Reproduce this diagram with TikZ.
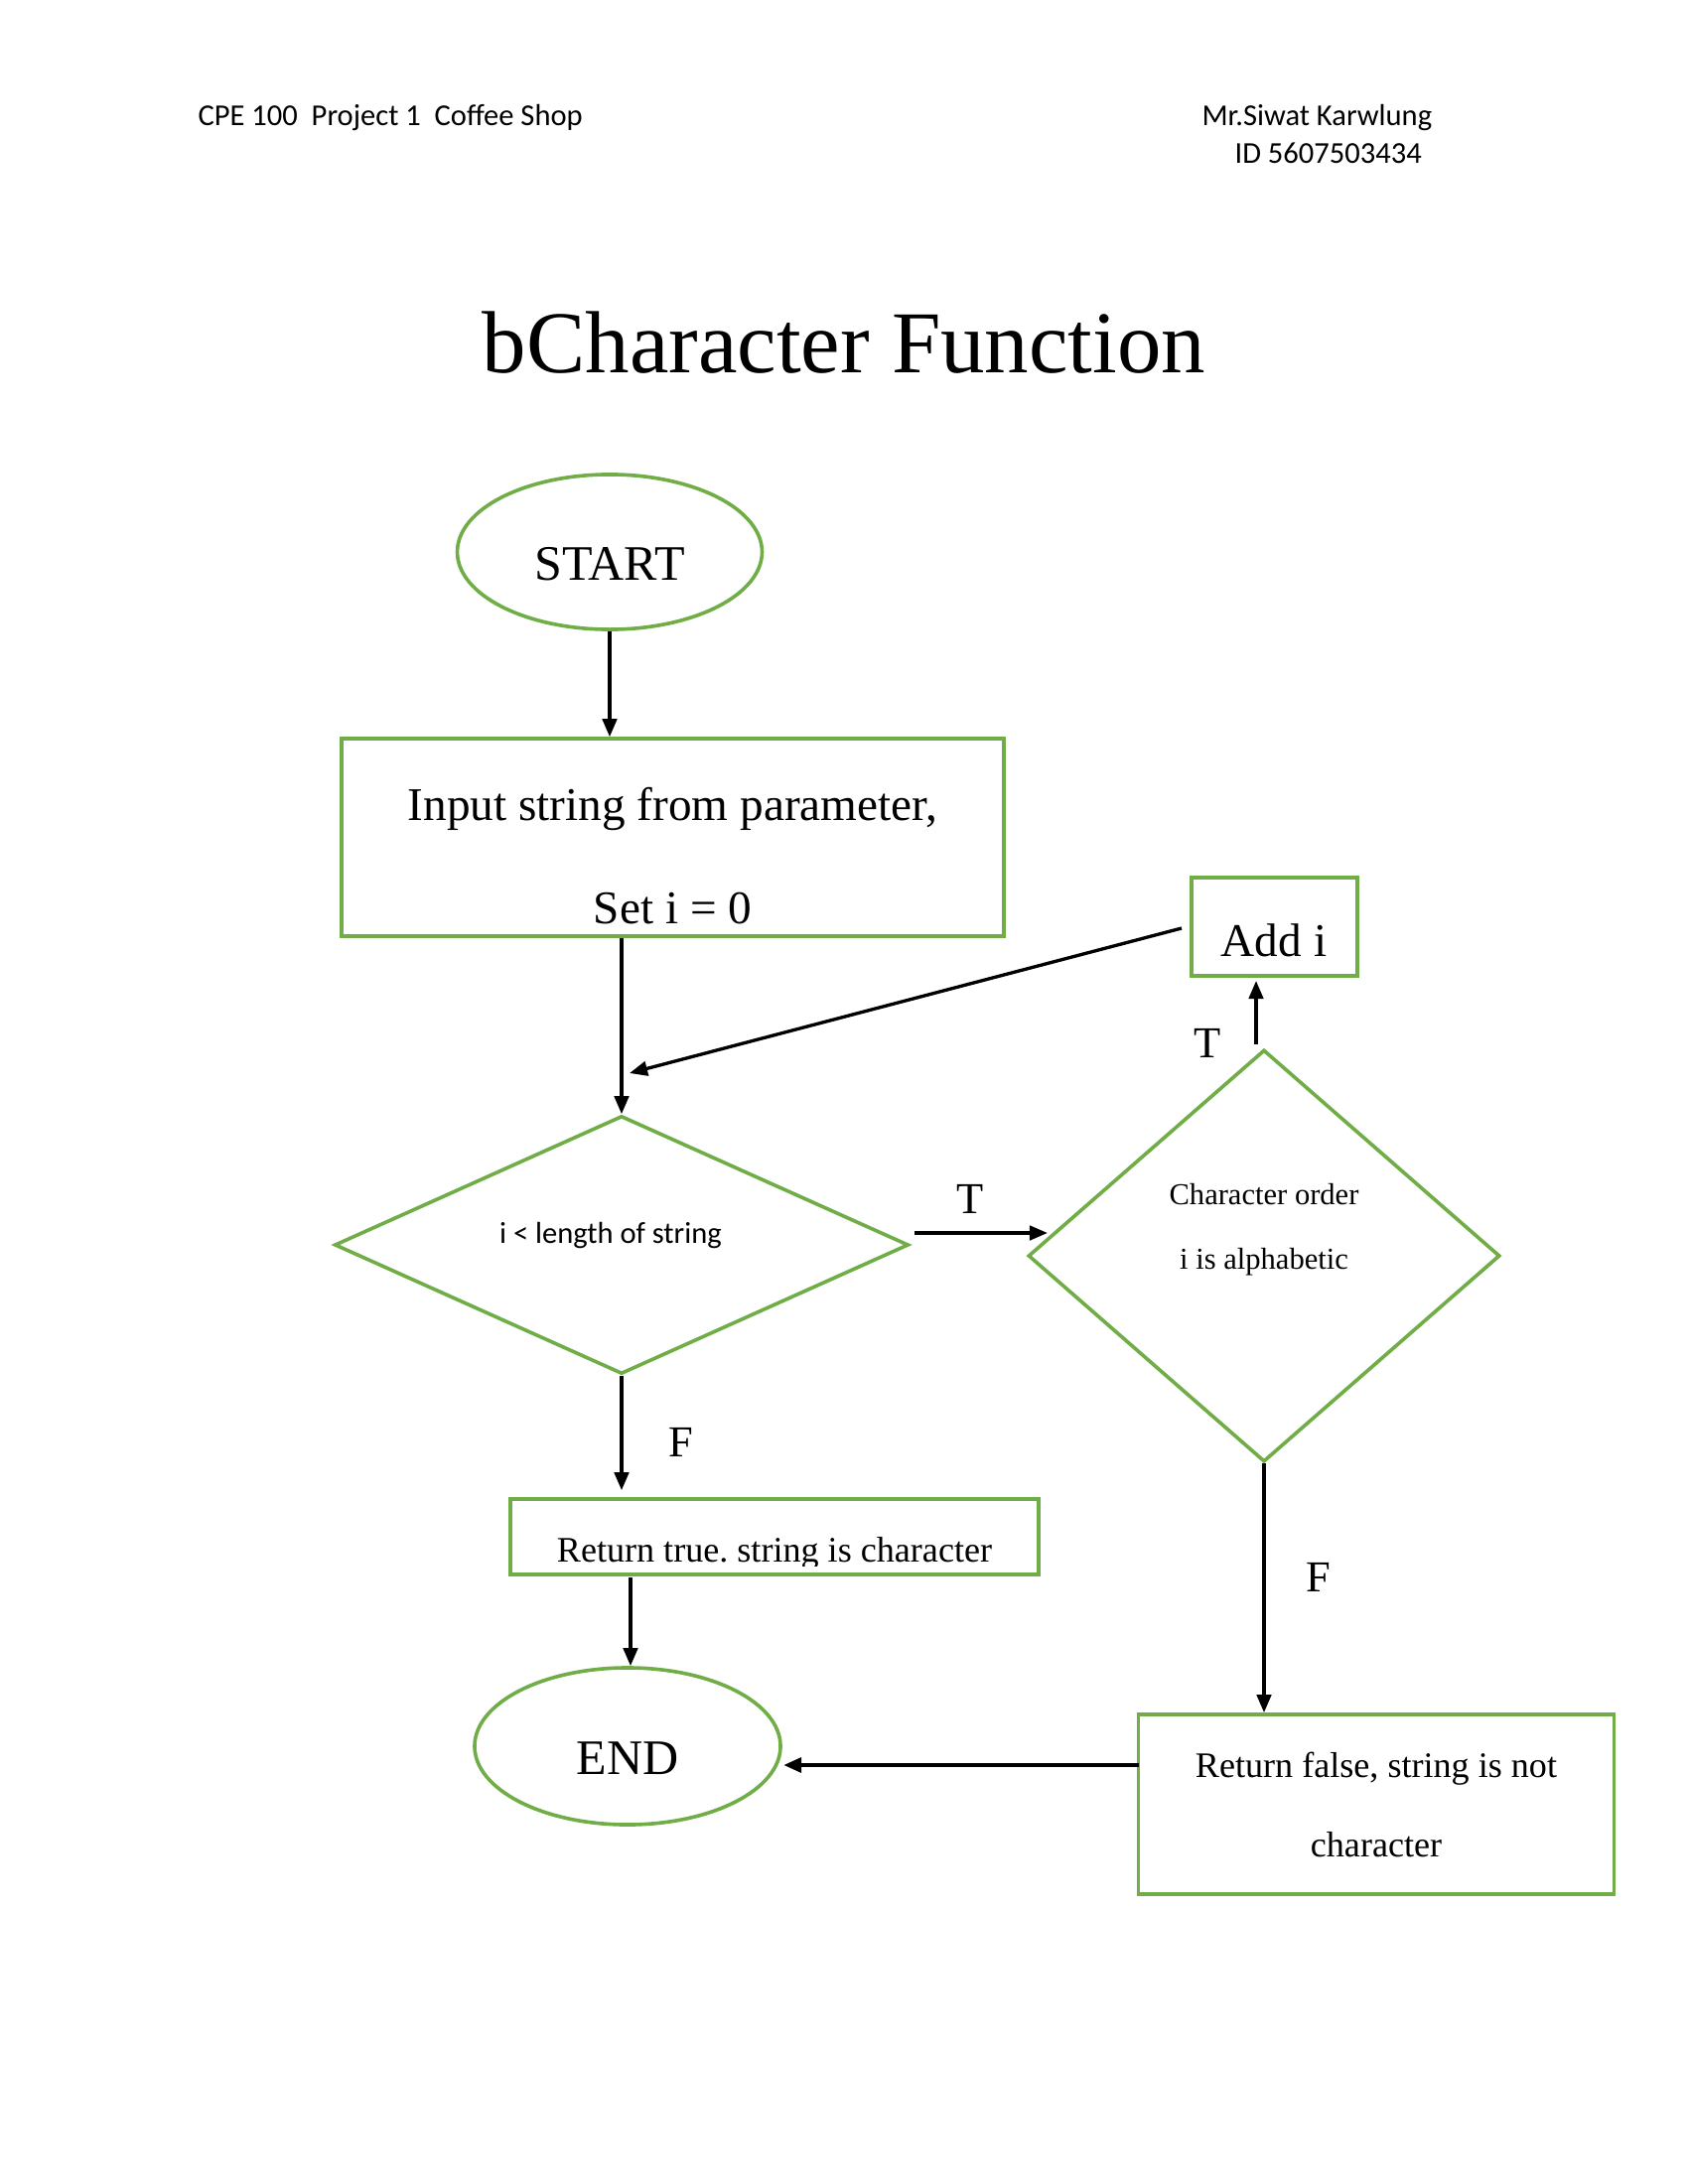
\documentclass[tikz,border=0pt]{standalone}
\usepackage{fontspec}
\setmainfont{Liberation Serif}
\newfontfamily\calib{Carlito}
\usetikzlibrary{shapes.geometric,arrows.meta}
\definecolor{ogreen}{HTML}{70AD47}
\frenchspacing
\begin{document}
\begin{tikzpicture}[x=0.36pt,y=-0.36pt,
  gline/.style={draw=ogreen, line width=1.3pt},
  boxn/.style={gline, rectangle, inner sep=0pt},
  elln/.style={gline, ellipse, inner sep=0pt},
  diam/.style={gline, diamond, inner sep=0pt},
  arr/.style={line width=1.2pt, -{Triangle[length=6.5pt,width=5.2pt]}},
  txt/.style={anchor=base, inner sep=0pt},
  big/.style={txt, font=\fontsize{18}{20}\selectfont},
  mid/.style={txt, font=\fontsize{17}{19}\selectfont},
  sml/.style={txt, font=\fontsize{13}{15}\selectfont},
  tiny/.style={txt, font=\fontsize{11}{13}\selectfont},
  lbl/.style={txt, font=\fontsize{16}{18}\selectfont},
  hdr/.style={anchor=base west, inner sep=0pt, font=\calib\fontsize{11}{13}\selectfont}]
\useasboundingbox (0,0) rectangle (1700,2200);
\fill[white] (0,0) rectangle (1700,2200);

% header
\node[hdr] (h1) at (199,127) {CPE 100\ \ Project 1\ \ Coffee Shop};
\node[hdr] (h2) at (1210,127) {Mr.Siwat Karwlung};
\node[hdr] (h3) at (1243,165) {ID 5607503434};

% title
\node[txt, font=\fontsize{32}{36}\selectfont] (title) at (850,376) {bCharacter Function};

% shapes
\node[elln, minimum width=110.5pt, minimum height=56.2pt] (start) at (614,556) {};
\node[big] (starttxt) at (614,584) {START};

\node[boxn, minimum width=240.1pt, minimum height=71.6pt] (inp) at (677.5,843.5) {};
\node[mid] (inptxt1) at (677.5,826) {Input string from parameter,};
\node[mid] (inptxt2) at (677.5,930) {Set i = 0};

\node[boxn, minimum width=60.1pt, minimum height=35.6pt] (addi) at (1283.5,933.5) {};
\node[mid] (additxt) at (1283,963) {Add i};

\node[diam, minimum width=208.1pt, minimum height=93.6pt] (d1) at (626,1254) {};
\node[txt, font=\calib\fontsize{11}{13}\selectfont] (d1txt) at (615,1252) {i < length of string};

\node[diam, minimum width=171pt, minimum height=149.4pt] (d2) at (1273,1265) {};
\node[tiny] (d2txt1) at (1273,1213) {Character order};
\node[tiny] (d2txt2) at (1273,1278) {i is alphabetic};

\node[boxn, minimum width=191.5pt, minimum height=27.4pt] (rt) at (780,1548) {};
\begin{scope}
  \clip (514,1512) rectangle (1046,1577);
  \node[sml] (rttxt) at (780,1573) {Return true. string is character};
\end{scope}

\node[elln, minimum width=110.9pt, minimum height=56.9pt] (endn) at (632,1759) {};
\node[big] (endtxt) at (632,1787) {END};

\node[boxn, minimum width=172.4pt, minimum height=65.2pt] (rf) at (1386,1817.5) {};
\node[sml] (rftxt1) at (1386,1790) {Return false, string is not};
\node[sml] (rftxt2) at (1386,1870) {character};

% labels
\node[lbl] (lT1) at (1216,1065) {T};
\node[lbl] (lT2) at (977,1222) {T};
\node[lbl] (lF1) at (686,1467) {F};
\node[lbl] (lF2) at (1328,1603) {F};

% connector end points
\coordinate (loopS) at (1190,935);
\coordinate (loopE) at (634,1081);
\coordinate (tS) at (1265,1052);
\coordinate (tE) at (1265,988);
\coordinate (tr1) at (921,1242);
\coordinate (tr2) at (1055,1242);
\coordinate (e1s) at (635,1589);
\coordinate (f1s) at (1147,1778);
\coordinate (f1e) at (789,1778);

% connectors
\draw[arr] (start.south) -- (start.south |- inp.north);
\draw[arr] (d1.north |- inp.south) -- (d1.north);
\draw[arr] (loopS) -- (loopE);
\draw[arr] (tS) -- (tE);
\draw[arr] (tr1) -- (tr2);
\draw[arr, shorten >=2.5pt] (d1.south) -- (d1.south |- rt.north);
\draw[arr] (e1s) -- (e1s |- endn.north);
\draw[arr] (d2.south) -- (d2.south |- rf.north);
\draw[arr, line width=1.7pt] (f1s) -- (f1e);
\end{tikzpicture}
\end{document}
